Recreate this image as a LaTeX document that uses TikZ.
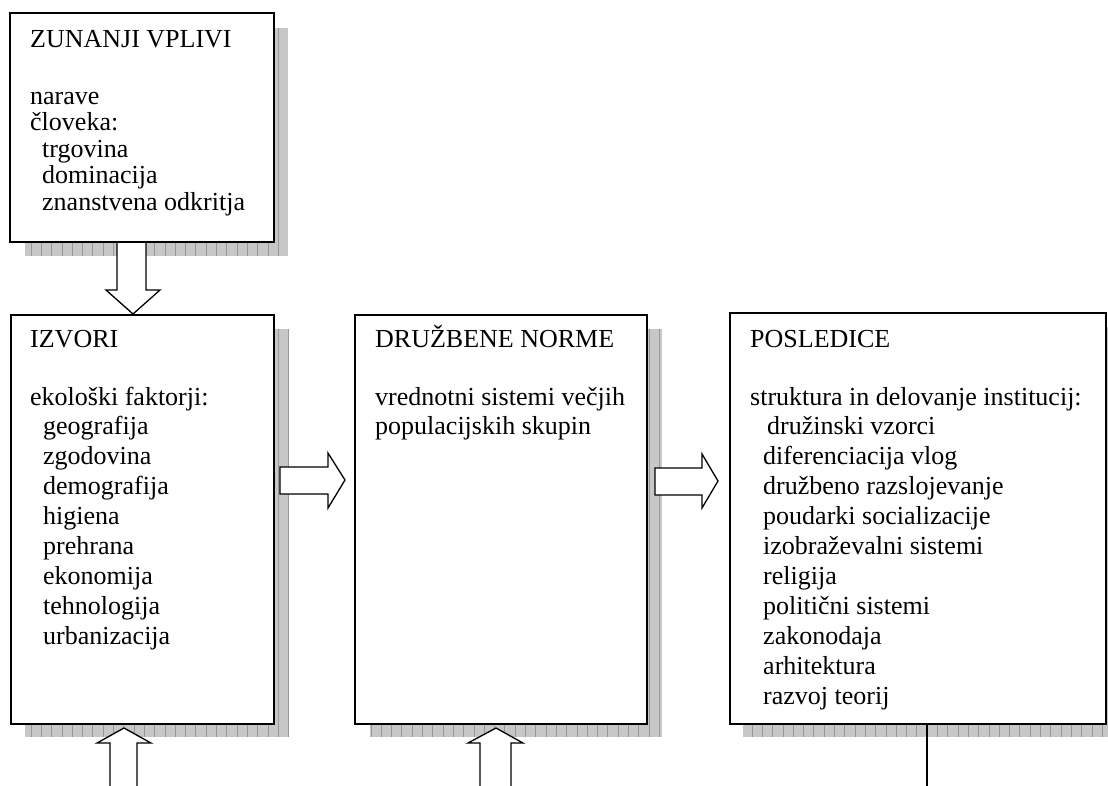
\documentclass[tikz,border=0pt]{standalone}
\usepackage{fontspec}
\setmainfont{Liberation Serif}
\usetikzlibrary{calc}
\begin{document}
\begin{tikzpicture}[x=1pt,y=-1pt,
  boxframe/.style={draw=black,line width=2pt,fill=white,inner sep=0pt},
  shadowfill/.style={fill=black!22},
  blockarrow/.style={draw=black,line width=1.3pt,fill=white,line join=miter},
  txt/.style={anchor=base west,inner sep=0pt,font=\fontsize{26}{30}\selectfont},
  plainline/.style={draw=black,line width=1.3pt}]
\useasboundingbox (0,0) rectangle (1108,785);
% shadows
\newcommand{\shadowrect}[4]{%
  \begin{scope}
  \clip (#1,#2) rectangle (#3,#4);
  \fill[shadowfill] (#1,#2) rectangle (#3,#4);
  \draw[black!40,line width=0.6pt,step=10.3] (#1,#2) grid (#3,#4);
  \end{scope}}
\shadowrect{25}{28}{288}{256}
\shadowrect{25}{329}{289}{737}
\shadowrect{370}{329}{662}{737}
\shadowrect{743}{327}{1120}{737}
% boxes
\node[boxframe,anchor=north west,minimum width=264pt,minimum height=229pt] (zun) at (9,12) {};
\node[boxframe,anchor=north west,minimum width=263pt,minimum height=409pt] (izv) at (10,314) {};
\node[boxframe,anchor=north west,minimum width=292pt,minimum height=409pt] (dru) at (354,314) {};
\node[boxframe,anchor=north west,minimum width=376pt,minimum height=411pt] (pos) at (729,312) {};
% texts
\node[txt] (zt) at (30,47) {ZUNANJI VPLIVI};
\foreach \x/\y/\t [count=\i] in {30/104/narave,30/130.5/človeka:,42/157/trgovina,42/183.5/dominacija,42/210/znanstvena odkritja}
  \node[txt] (zl\i) at (\x,\y) {\t};
\node[txt] (it) at (30,347) {IZVORI};
\foreach \x/\y/\t [count=\i] in {30/405/ekološki faktorji:,43/434/geografija,43/464/zgodovina,43/494/demografija,43/524/higiena,43/554/prehrana,43/584/ekonomija,43/614/tehnologija,43/644/urbanizacija}
  \node[txt] (il\i) at (\x,\y) {\t};
\node[txt] (dt) at (375,347) {DRUŽBENE NORME};
\node[txt] (dl1) at (375,405) {vrednotni sistemi večjih};
\node[txt] (dl2) at (375,434) {populacijskih skupin};
\node[txt] (pt) at (750,347) {POSLEDICE};
\foreach \x/\y/\t [count=\i] in {750/405/struktura in delovanje institucij:,767/434/družinski vzorci,763/464/diferenciacija vlog,763/494/družbeno razslojevanje,763/524/poudarki socializacije,763/554/izobraževalni sistemi,763/584/religija,763/614/politični sistemi,763/644/zakonodaja,763/674/arhitektura,763/704/razvoj teorij}
  \node[txt] (pl\i) at (\x,\y) {\t};
% block arrow down: zun -> izv
\draw[blockarrow] (117,0 |- zun.south) -- (117,290) -- (106,290) -- (133,0 |- izv.north) -- (160,290) -- (146,290) -- (146,0 |- zun.south);
% block arrow right: izv -> dru
\draw[blockarrow] (280,467) -- (328,467) -- (328,453) -- ($(dru.west |- 0,480)+(-9,0)$) -- (328,508) -- (328,494) -- (280,494) -- cycle;
% block arrow right: dru -> pos
\draw[blockarrow] (655,468) -- (702,468) -- (702,454) -- ($(pos.west |- 0,481)+(-11,0)$) -- (702,508) -- (702,495) -- (655,495) -- cycle;
% block arrows up from below
\coordinate (ib) at (110,790);
\coordinate (db) at (480,790);
\draw[blockarrow] (ib) -- (110,743) -- (97,743) -- ($(124,0 |- izv.south)+(0,3)$) -- (151,743) -- (137,743) -- (137,790);
\draw[blockarrow] (db) -- (480,743) -- (468,743) -- ($(496,0 |- dru.south)+(0,3)$) -- (523,743) -- (511,743) -- (511,790);
% line from pos
\coordinate (pb) at (927,790);
\draw[plainline] (927,0 |- pos.south) -- (pb);
\end{tikzpicture}
\end{document}
